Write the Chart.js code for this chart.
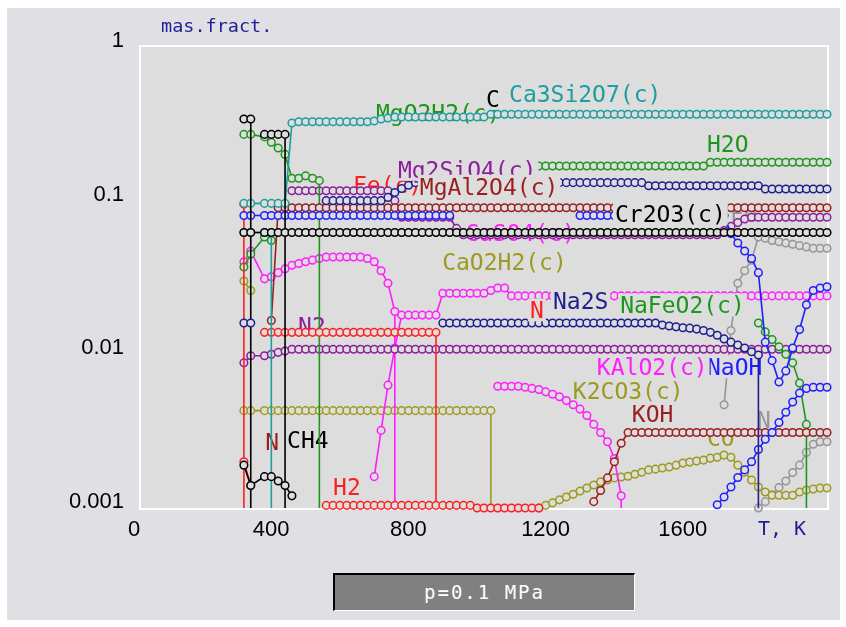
<!DOCTYPE html>
<html>

<head>
    <meta charset="utf-8" />
    <script src="https://cdn.jsdelivr.net/npm/chart.js"></script>
    <style>
        body {
            margin: 0;
            padding: 0;
            background-color: #ffffff;
        }

        #panel {
            position: absolute;
            left: 7px;
            top: 8px;
            width: 833px;
            height: 612px;
            background-color: #e0e0e4;
        }

        #chart {
            position: absolute;
            left: 0;
            top: 0;
        }

        #pbox {
            position: absolute;
            left: 333px;
            top: 573px;
            width: 299px;
            height: 35px;
            background-color: #808080;
            border-top: 2px solid #000;
            border-left: 2px solid #000;
            border-bottom: 1px solid #fff;
            border-right: 1px solid #fff;
            color: #fff;
            font: 19px "DejaVu Sans Mono", monospace;
            letter-spacing: 2px;
            line-height: 35px;
            text-align: center;
        }
    </style>
</head>

<body>
    <div id="panel"></div>
    <canvas id="chart" width="846" height="627"></canvas>
    <div id="pbox">p=0.1 MPa</div>
</body>
<script>
    // temperature grid of the calculation, K (no point at 340)
    const temps = [
        300, 320, 360, 380, 400, 420, 440, 460, 480, 500,
        520, 540, 560, 580, 600, 620, 640, 660, 680, 700,
        720, 740, 760, 780, 800, 820, 840, 860, 880, 900,
        920, 940, 960, 980, 1000, 1020, 1040, 1060, 1080, 1100,
        1120, 1140, 1160, 1180, 1200, 1220, 1240, 1260, 1280, 1300,
        1320, 1340, 1360, 1380, 1400, 1420, 1440, 1460, 1480, 1500,
        1520, 1540, 1560, 1580, 1600, 1620, 1640, 1660, 1680, 1700,
        1720, 1740, 1760, 1780, 1800, 1820, 1840, 1860, 1880, 1900,
        1920, 1940, 1960, 1980, 2000
    ];

    // axis ticks
    const xTicks = [0, 400, 800, 1200, 1600];
    const xTickText = ['0', '400', '800', '1200', '1600'];
    const yTicks = [0.001, 0.01, 0.1, 1];
    const yTickText = ['0.001', '0.01', '0.1', '1'];

    // mass fractions, each list starts at the temperature given in the table below
    const ca3si2o7 = [
        0.096, 0.096, 0.096, 0.096, 0.096, 0.096, 0.32, 0.326, 0.326, 0.326,
        0.326, 0.326, 0.326, 0.326, 0.326, 0.326, 0.326, 0.326, 0.33, 0.34,
        0.345, 0.35, 0.35, 0.35, 0.35, 0.35, 0.35, 0.35, 0.35, 0.35,
        0.35, 0.35, 0.35, 0.35, 0.35, 0.365, 0.365, 0.365, 0.365, 0.365,
        0.365, 0.365, 0.365, 0.365, 0.365, 0.365, 0.365, 0.365, 0.365, 0.365,
        0.365, 0.365, 0.365, 0.365, 0.365, 0.365, 0.365, 0.365, 0.365, 0.365,
        0.365, 0.365, 0.365, 0.365, 0.365, 0.365, 0.365, 0.365, 0.365, 0.365,
        0.365, 0.365, 0.365, 0.365, 0.365, 0.365, 0.365, 0.365, 0.365, 0.365,
        0.365, 0.365, 0.365, 0.365, 0.365
    ];
    const cr2o3 = [
        0.062, 0.062, 0.062, 0.062, 0.062, 0.062, 0.062, 0.062, 0.062, 0.062,
        0.062, 0.062, 0.062, 0.062, 0.062, 0.062, 0.062, 0.062, 0.062, 0.062,
        0.062, 0.062, 0.062, 0.062, 0.062, 0.062, 0.062, 0.062, 0.062, 0.062,
        0.062, 0.062, 0.062, 0.062, 0.062, 0.062, 0.062, 0.062, 0.062, 0.062,
        0.062, 0.062, 0.062, 0.062, 0.062, 0.062, 0.062, 0.062, 0.062, 0.062,
        0.062, 0.062, 0.062, 0.062, 0.062, 0.062, 0.062, 0.062, 0.062, 0.062,
        0.062, 0.062, 0.062, 0.062, 0.062, 0.062, 0.062, 0.062, 0.062, 0.062,
        0.062, 0.062, 0.062, 0.062, 0.062, 0.062, 0.062, 0.062, 0.062, 0.062,
        0.062, 0.062, 0.062, 0.062, 0.062
    ];
    const purpleLow = [
        0.0088, 0.0098, 0.0098, 0.01, 0.0103, 0.0105, 0.0108, 0.0108, 0.0108, 0.0108,
        0.0108, 0.0108, 0.0108, 0.0108, 0.0108, 0.0108, 0.0108, 0.0108, 0.0108, 0.0108,
        0.0108, 0.0108, 0.0108, 0.0108, 0.0108, 0.0108, 0.0108, 0.0108, 0.0108, 0.0108,
        0.0108, 0.0108, 0.0108, 0.0108, 0.0108, 0.0108, 0.0108, 0.0108, 0.0108, 0.0108,
        0.0108, 0.0108, 0.0108, 0.0108, 0.0108, 0.0108, 0.0108, 0.0108, 0.0108, 0.0108,
        0.0108, 0.0108, 0.0108, 0.0108, 0.0108, 0.0108, 0.0108, 0.0108, 0.0108, 0.0108,
        0.0108, 0.0108, 0.0108, 0.0108, 0.0108, 0.0108, 0.0108, 0.0108, 0.0108, 0.0108,
        0.0108, 0.0108, 0.0108, 0.0108, 0.0108, 0.0108, 0.0108, 0.0108, 0.0108, 0.0108,
        0.0108, 0.0108, 0.0108, 0.0108, 0.0108
    ];
    const magArc = [
        0.040, 0.047, 0.031, 0.032, 0.034, 0.036, 0.038, 0.039, 0.040, 0.041,
        0.042, 0.043, 0.043, 0.043, 0.043, 0.043, 0.043, 0.042, 0.040, 0.035,
        0.029, 0.019
    ];
    const oliveFlat = [
        0.0043, 0.0043, 0.0043, 0.0043, 0.0043, 0.0043, 0.0043, 0.0043, 0.0043, 0.0043,
        0.0043, 0.0043, 0.0043, 0.0043, 0.0043, 0.0043, 0.0043, 0.0043, 0.0043, 0.0043,
        0.0043, 0.0043, 0.0043, 0.0043, 0.0043, 0.0043, 0.0043, 0.0043, 0.0043, 0.0043,
        0.0043, 0.0043, 0.0043, 0.0043, 0.0043, 0.0043
    ];
    const blueLow = [
        0.08, 0.08, 0.08, 0.08, 0.08, 0.08, 0.08, 0.08, 0.08, 0.08,
        0.08, 0.08, 0.08, 0.08, 0.08, 0.08, 0.08, 0.08, 0.08, 0.08,
        0.08, 0.08, 0.08, 0.08, 0.08, 0.08, 0.08, 0.08, 0.08, 0.08
    ];
    const greenHigh = [0.27, 0.27, 0.26, 0.24, 0.22, 0.20, 0.14, 0.14, 0.145, 0.14, 0.135];
    const greenLow = [0.037, 0.045, 0.058, 0.055];
    const blackTop = [0.34, 0.34];
    const blackMid = [0.27, 0.27, 0.27, 0.27];
    const ch4 = [0.0019, 0.0014, 0.0016, 0.0016, 0.0015, 0.0014, 0.0012];
    const redTop = [0.095];
    const redLow = [0.002, 0.0014];
    const navyLow = [0.016, 0.016];
    const oliveLow = [0.03, 0.026];
    const cyanLow = [0.062, 0.062, 0.062, 0.062];

    const mgal2o4 = [
        0.0166, 0.09, 0.09, 0.09, 0.09, 0.09, 0.09,
        0.09, 0.09, 0.09, 0.09, 0.09, 0.09, 0.09, 0.09, 0.09, 0.09,
        0.09, 0.09, 0.09, 0.09, 0.09, 0.09, 0.09, 0.09, 0.09, 0.09,
        0.09, 0.09, 0.09, 0.09, 0.09, 0.09, 0.09, 0.09, 0.09, 0.09,
        0.09, 0.09, 0.09, 0.09, 0.09, 0.09, 0.09, 0.09, 0.09, 0.09,
        0.09, 0.09, 0.09, 0.09, 0.09, 0.09, 0.09, 0.09, 0.09, 0.09,
        0.09, 0.09, 0.09, 0.09, 0.09, 0.09, 0.09, 0.09, 0.09, 0.09,
        0.09, 0.09, 0.09, 0.09, 0.09, 0.09, 0.09, 0.09, 0.09, 0.09,
        0.09, 0.09, 0.09, 0.09, 0.09
    ];
    const n2 = [
        0.0139, 0.0139, 0.0139, 0.0139, 0.0139, 0.0139, 0.0139, 0.0139,
        0.0139, 0.0139, 0.0139, 0.0139, 0.0139, 0.0139, 0.0139, 0.0139, 0.0139, 0.0139,
        0.0139, 0.0139, 0.0139, 0.0139, 0.0139, 0.0139, 0.0139, 0.0139
    ];
    const purpleHigh = [
        0.116, 0.116, 0.116, 0.116,
        0.116, 0.116, 0.116, 0.116, 0.116, 0.116, 0.116, 0.116, 0.116, 0.116,
        0.116, 0.1, 0.078, 0.078, 0.078, 0.078, 0.078, 0.078, 0.078, 0.078,
        0.066, 0.06, 0.06, 0.06, 0.06, 0.06, 0.06, 0.06, 0.06, 0.06,
        0.06, 0.06, 0.06, 0.06, 0.06, 0.06, 0.06, 0.06, 0.06, 0.06,
        0.06, 0.06, 0.06, 0.06, 0.06, 0.06, 0.06, 0.06, 0.06, 0.06,
        0.06, 0.06, 0.06, 0.06, 0.06, 0.06, 0.06, 0.06, 0.06, 0.064,
        0.068, 0.072, 0.076, 0.078, 0.078, 0.078, 0.078, 0.078, 0.078, 0.078,
        0.078, 0.078, 0.078, 0.078, 0.078
    ];
    const navyHigh = [
        0.1, 0.1, 0.1, 0.1, 0.1, 0.1, 0.1, 0.1, 0.1,
        0.105, 0.113, 0.12, 0.126, 0.131, 0.131, 0.131, 0.131, 0.131, 0.131,
        0.131, 0.131, 0.131, 0.131, 0.131, 0.131, 0.131, 0.131, 0.131, 0.131,
        0.131, 0.131, 0.131, 0.131, 0.131, 0.131, 0.131, 0.131, 0.131, 0.131,
        0.131, 0.131, 0.131, 0.131, 0.131, 0.131, 0.131, 0.131, 0.125, 0.125,
        0.125, 0.125, 0.125, 0.125, 0.125, 0.125, 0.125, 0.125, 0.125, 0.125,
        0.125, 0.125, 0.125, 0.125, 0.125, 0.119, 0.119, 0.119, 0.119, 0.119,
        0.119, 0.119, 0.119, 0.119, 0.119
    ];
    const h2 = [
        0.00104, 0.00104, 0.00104, 0.00104, 0.00104, 0.00104, 0.00104, 0.00104, 0.00104,
        0.00104, 0.00104, 0.00104, 0.00104, 0.00104, 0.00104, 0.00104, 0.00104, 0.00104, 0.00104,
        0.00104, 0.00104, 0.00104, 0.001, 0.001, 0.001, 0.001, 0.001, 0.001, 0.001,
        0.001, 0.001, 0.001
    ];
    const magStep = [
        0.0016, 0.0032,
        0.0063, 0.011, 0.018, 0.018, 0.018, 0.018, 0.018, 0.018, 0.025, 0.025,
        0.025, 0.025, 0.025, 0.025, 0.025, 0.026, 0.027, 0.027, 0.024, 0.024,
        0.024, 0.024, 0.024, 0.024, 0.024, 0.024, 0.024, 0.024, 0.024, 0.024,
        0.024, 0.024, 0.024, 0.024, 0.024, 0.024, 0.024, 0.024, 0.024, 0.024,
        0.024, 0.024, 0.024, 0.024, 0.024, 0.024, 0.024, 0.024, 0.024, 0.024,
        0.024, 0.024, 0.024, 0.024, 0.024, 0.024, 0.024, 0.024, 0.024, 0.024,
        0.024, 0.024, 0.024, 0.024, 0.024
    ];
    const na2s = [
        0.016, 0.016,
        0.016, 0.016, 0.016, 0.016, 0.016, 0.016, 0.016, 0.016, 0.016, 0.016,
        0.016, 0.016, 0.016, 0.016, 0.016, 0.016, 0.016, 0.016, 0.016, 0.016,
        0.016, 0.016, 0.016, 0.016, 0.016, 0.016, 0.016, 0.016, 0.016, 0.016,
        0.0155, 0.0153, 0.0151, 0.0149, 0.0148, 0.0146, 0.0143, 0.0139, 0.0133, 0.0126,
        0.012, 0.0115, 0.011, 0.0104, 0.0099
    ];
    const kalo2 = [
        0.0062, 0.0062, 0.0062, 0.0062,
        0.0061, 0.006, 0.0059, 0.0057, 0.0055, 0.0053, 0.005, 0.0047, 0.0044, 0.004,
        0.0035, 0.0031, 0.0027, 0.0021, 0.0012
    ];
    const h2o = [
        0.168, 0.168, 0.168, 0.168, 0.168, 0.168, 0.168, 0.168, 0.168,
        0.168, 0.168, 0.168, 0.168, 0.168, 0.168, 0.168, 0.168, 0.168, 0.168,
        0.168, 0.168, 0.168, 0.168, 0.168, 0.168, 0.168, 0.178, 0.178, 0.178,
        0.178, 0.178, 0.178, 0.178, 0.178, 0.178, 0.178, 0.178, 0.178, 0.178,
        0.178, 0.178, 0.178, 0.178, 0.178
    ];
    const co = [
        0.001, 0.00104, 0.00108, 0.00113, 0.00118, 0.00123, 0.00129, 0.00135,
        0.00141, 0.00148, 0.00152, 0.00157, 0.00159, 0.00161, 0.00166, 0.00171, 0.00177, 0.00179,
        0.00182, 0.00185, 0.0019, 0.00196, 0.00199, 0.00202, 0.00205, 0.00211, 0.00214, 0.00221,
        0.00214, 0.0019, 0.00171, 0.00152, 0.00137, 0.00127, 0.00121, 0.00121, 0.00121, 0.00121,
        0.00127, 0.00131, 0.00133, 0.00135, 0.00135
    ];
    const blueHigh = [
        0.08, 0.08,
        0.08, 0.08, 0.08, 0.08, 0.08, 0.08, 0.08, 0.08, 0.08, 0.08,
        0.08, 0.08, 0.08, 0.08, 0.08, 0.08, 0.08, 0.08, 0.08, 0.08,
        0.061, 0.053, 0.047, 0.042, 0.034, 0.012, 0.0091, 0.0066, 0.0078, 0.011,
        0.0145, 0.021, 0.026, 0.027, 0.0275
    ];
    const koh = [
        0.0011, 0.0013, 0.00157, 0.002, 0.00264, 0.0031, 0.0031, 0.0031, 0.0031, 0.0031,
        0.0031, 0.0031, 0.0031, 0.0031, 0.0031, 0.0031, 0.0031, 0.0031, 0.0031, 0.0031,
        0.0031, 0.0031, 0.0031, 0.0031, 0.0031, 0.0031, 0.0031, 0.0031, 0.0031, 0.0031,
        0.0031, 0.0031, 0.0031, 0.0031, 0.0031
    ];
    const naoh = [
        0.00105, 0.00118,
        0.00137, 0.00158, 0.00177, 0.002, 0.0024, 0.0028, 0.0031, 0.0036, 0.0042, 0.0049,
        0.0056, 0.006, 0.0061, 0.0061, 0.0061
    ];
    const grayFe = [
        0.0047,
        0.0143, 0.029, 0.035, 0.041, 0.058, 0.057, 0.055, 0.054, 0.053, 0.052,
        0.051, 0.05, 0.049, 0.049, 0.049
    ];
    const grayN = [
        0.001, 0.0011, 0.00122, 0.00136, 0.0015, 0.0017,
        0.0019, 0.0023, 0.0026, 0.0027, 0.0027
    ];
    const nafeo2 = [0.016, 0.014, 0.0125, 0.0112, 0.01, 0.0088, 0.0065, 0.0035];

    const TEAL = '#1e9e9e', GREEN = '#1e961e', PURPLE = '#8c1e9b', MAROON = '#9b1e1e',
        RED = '#ff1e1e', MAGENTA = '#ff1eff', NAVY = '#1e1e91', BLUE = '#1e1eff',
        OLIVE = '#9b9b1e', GRAY = '#969696', BLACK = '#000000';
    const PLOT_BG = '#dddddd';
    const FLOOR = 0.001;

    // name, values, first temperature, temperature where it falls to the axis, colour
    // listed in drawing order: later entries are painted on top
    const series = [
        ['grayN', grayN, 1800, null, GRAY],
        ['grayFe', grayFe, 1700, null, GRAY],
        ['oliveLow', oliveLow, 300, null, OLIVE],
        ['oliveFlat', oliveFlat, 300, 1020, OLIVE],
        ['CO', co, 1160, null, OLIVE],
        ['magArc', magArc, 300, 740, MAGENTA],
        ['magStep', magStep, 680, null, MAGENTA],
        ['KAlO2', kalo2, 1040, 1400, MAGENTA],
        ['purpleHigh', purpleHigh, 440, null, PURPLE],
        ['purpleLow', purpleLow, 300, null, PURPLE],
        ['greenLow', greenLow, 300, null, GREEN],
        ['greenHigh', greenHigh, 300, 520, GREEN],
        ['H2O', h2o, 1140, null, GREEN],
        ['NaFeO2', nafeo2, 1800, 1940, GREEN],
        ['MgAl2O4', mgal2o4, 380, null, MAROON],
        ['KOH', koh, 1320, null, MAROON],
        ['redTop', redTop, 300, 300, RED],
        ['redLow', redLow, 300, null, RED],
        ['N2', n2, 360, 860, RED],
        ['H2', h2, 540, null, RED],
        ['blueLow', blueLow, 300, null, BLUE],
        ['blueHigh', blueHigh, 1280, null, BLUE],
        ['NaOH', naoh, 1680, null, BLUE],
        ['cyanLow', cyanLow, 300, 380, TEAL],
        ['Ca3Si2O7', ca3si2o7, 300, null, TEAL],
        ['blackTop', blackTop, 300, 320, BLACK],
        ['blackMid', blackMid, 360, 420, BLACK],
        ['CH4', ch4, 300, null, BLACK],
        ['Cr2O3', cr2o3, 300, null, BLACK],
        ['navyLow', navyLow, 300, null, NAVY],
        ['Na2S', na2s, 880, 1800, NAVY],
        ['navyHigh', navyHigh, 540, null, NAVY]
    ];

    // species names written on the plot; layer = when it is painted
    const notes = [
        { text: 'MgO2H2(c)', at: [685, 0.373], color: GREEN, layer: 'under' },
        { text: 'C', at: [1006, 0.46], color: BLACK, layer: 'under' },
        { text: 'CaSO4(c)', at: [945, 0.062], color: MAGENTA, layer: 'under' },
        { text: 'Fe(c)', at: [618, 0.127], color: RED, layer: 'under' },
        { text: 'N2', at: [458, 0.0152], color: PURPLE, layer: 'under' },
        { text: 'N', at: [362, 0.00268], color: MAROON, layer: 'under' },
        { text: 'CH4', at: [426, 0.00277], color: BLACK, layer: 'under' },
        { text: 'KOH', at: [1431, 0.0041], color: MAROON, layer: 'under' },
        { text: 'N', at: [1796, 0.00373], color: GRAY, layer: 'under' },
        { text: 'Fe', at: [1717, 0.0823], color: GRAY, layer: 'grayFe' },
        { text: 'K2CO3(c)', at: [1259, 0.00575], color: OLIVE, layer: 'CO' },
        { text: 'CO', at: [1650, 0.00285], color: OLIVE, layer: 'CO' },
        { text: 'NaOH', at: [1650, 0.00824], color: BLUE, layer: 'NaOH' },
        { text: 'Cr2O3(c)', at: [1382, 0.0823], color: BLACK, layer: 'Cr2O3' },
        { text: 'Ca3Si2O7(c)', at: [1073, 0.491], color: TEAL, layer: 'top' },
        { text: 'H2O', at: [1650, 0.2345], color: GREEN, layer: 'top' },
        { text: 'Mg2SiO4(c)', at: [749, 0.159], color: PURPLE, layer: 'top' },
        { text: 'MgAl2O4(c)', at: [813, 0.1233], color: MAROON, layer: 'top' },
        { text: 'CaO2H2(c)', at: [878, 0.0396], color: OLIVE, layer: 'top' },
        { text: 'N', at: [1134, 0.0193], color: RED, layer: 'top' },
        { text: 'Na2S', at: [1201, 0.0224], color: NAVY, layer: 'top' },
        { text: 'NaFeO2(c)', at: [1397, 0.0208], color: GREEN, layer: 'top' },
        { text: 'KAlO2(c)', at: [1329, 0.00824], color: MAGENTA, layer: 'top' },
        { text: 'H2', at: [560, 0.00137], color: RED, layer: 'top' }
    ];

    const LABEL_FONT = '23px "DejaVu Sans Mono"';
    const TICK_FONT = { family: 'Liberation Sans', size: 22 };

    function drawNote(chart, n) {
        const ctx = chart.ctx;
        const x = chart.scales.x.getPixelForValue(n.at[0]);
        const y = chart.scales.y.getPixelForValue(n.at[1]);
        ctx.save();
        ctx.font = LABEL_FONT;
        const w = ctx.measureText(n.text).width;
        ctx.fillStyle = PLOT_BG;
        ctx.fillRect(x - 2, y - 12, w + 4, 23);
        ctx.fillStyle = n.color;
        ctx.textBaseline = 'alphabetic';
        ctx.fillText(n.text, x, y + 8);
        ctx.restore();
    }

    const notesPlugin = {
        id: 'notes',
        beforeDraw(chart) {
            const a = chart.chartArea, ctx = chart.ctx;
            ctx.save();
            ctx.fillStyle = PLOT_BG;
            ctx.fillRect(a.left, a.top, a.right - a.left, a.bottom - a.top);
            ctx.strokeStyle = '#ffffff';
            ctx.lineWidth = 2;
            ctx.strokeRect(a.left - 1, a.top - 1, a.right - a.left + 2, a.bottom - a.top + 2);
            ctx.fillStyle = '#1e1e96';
            ctx.textBaseline = 'middle';
            ctx.font = '18.5px "DejaVu Sans Mono"';
            ctx.fillText('mas.fract.', 161, 27);
            ctx.font = '20px "DejaVu Sans Mono"';
            ctx.fillText('T, K', 758, 530);
            ctx.restore();
        },
        beforeDatasetsDraw(chart) {
            notes.filter(n => n.layer === 'under').forEach(n => drawNote(chart, n));
        },
        afterDatasetDraw(chart, args) {
            const name = chart.data.datasets[args.index].label;
            notes.filter(n => n.layer === name).forEach(n => drawNote(chart, n));
        },
        afterDatasetsDraw(chart) {
            notes.filter(n => n.layer === 'top').forEach(n => drawNote(chart, n));
        }
    };

    // build the datasets from the lists above
    var datasets = series.map(function (s, i) {
        var name = s[0], vals = s[1], from = s[2], drop = s[3], color = s[4];
        var k = temps.indexOf(from);
        var pts = vals.map((v, j) => ({ x: temps[k + j], y: v }));
        if (drop !== null) {
            pts.push({ x: drop, y: FLOOR, drop: true });
        }
        return {
            label: name,
            data: pts,
            borderColor: color,
            borderWidth: 1.6,
            pointStyle: 'circle',
            pointRadius: c => (c.raw && c.raw.drop) ? 0 : 3.8,
            pointBorderColor: color,
            pointBackgroundColor: PLOT_BG,
            pointBorderWidth: 1.5,
            tension: 0,
            clip: false,
            order: series.length - i
        };
    });

    var ctx = document.getElementById("chart").getContext("2d");
    var chemChart = new Chart(ctx, {
        type: "line",
        data: { datasets: datasets },
        options: {
            responsive: false,
            animation: false,
            devicePixelRatio: 1,
            layout: { padding: { top: 47, right: 19, bottom: 79, left: 0 } },
            plugins: {
                legend: { display: false },
                tooltip: { enabled: false }
            },
            scales: {
                x: {
                    type: 'linear',
                    min: 0,
                    max: 2000,
                    afterBuildTicks: s => { s.ticks = xTicks.map(v => ({ value: v })); },
                    afterFit: s => { s.height = 40; },
                    grid: { display: false, drawTicks: false },
                    border: { display: false },
                    ticks: {
                        color: '#000',
                        font: TICK_FONT,
                        padding: 9,
                        labelOffset: -7,
                        maxRotation: 0,
                        autoSkip: false,
                        callback: (v, i) => xTickText[i]
                    }
                },
                y: {
                    type: 'logarithmic',
                    min: 0.001,
                    max: 1,
                    afterBuildTicks: s => { s.ticks = yTicks.map(v => ({ value: v })); },
                    afterFit: s => { s.width = 141; },
                    grid: { display: false, drawTicks: false },
                    border: { display: false },
                    ticks: {
                        color: '#000',
                        font: TICK_FONT,
                        padding: 17,
                        labelOffset: -6,
                        autoSkip: false,
                        callback: (v, i) => yTickText[i]
                    }
                }
            }
        },
        plugins: [notesPlugin]
    });
</script>

</html>
